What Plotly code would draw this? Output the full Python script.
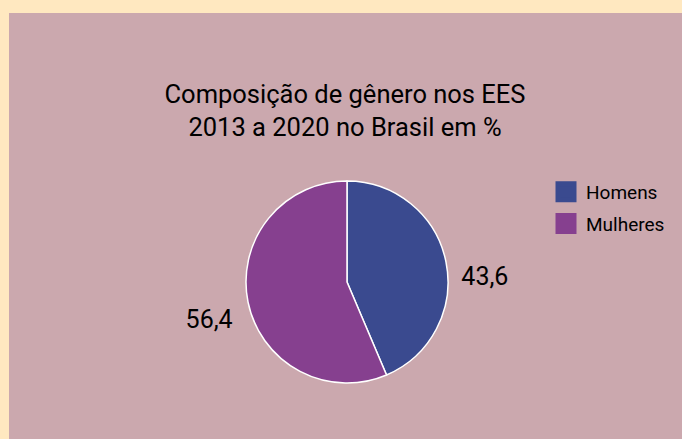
import plotly.graph_objects as go

labels = ["Homens", "Mulheres"]
values = [43.6, 56.4]
text_labels = ["43,6", "56,4"]
colors = ["#3A4A8F", "#86408F"]

W, H = 673, 426
fig = go.Figure()
fig.add_trace(go.Pie(
    labels=labels, values=values,
    text=["&nbsp;<br>" + t for t in text_labels],
    textinfo="text", textposition="outside",
    sort=False, direction="clockwise", rotation=0,
    marker=dict(colors=colors, line=dict(color="white", width=1.5)),
    textfont=dict(size=25, color="black", family="Roboto"),
    domain=dict(x=[(338 - 101) / W, (338 + 101) / W], y=[(157 - 101) / H, (157 + 101) / H]),
    showlegend=False, hoverinfo="label+value",
))
for name, col in zip(labels, colors):
    fig.add_trace(go.Scatter(
        x=[None], y=[None], mode="markers", name=name, legendgroup=name,
        marker=dict(symbol="square", size=16, color=col, line=dict(color=col, width=5)),
    ))
fig.update_layout(
    width=W, height=H,
    margin=dict(l=0, r=0, t=0, b=0),
    paper_bgcolor="#CBA8AE", plot_bgcolor="#CBA8AE",
    font=dict(family="Roboto", color="black"),
    xaxis=dict(visible=False), yaxis=dict(visible=False),
    title=dict(text="Composição de gênero nos EES<br>2013 a 2020 no Brasil em %",
               x=336 / W, xanchor="center", y=1 - 90 / H, yanchor="middle",
               yref="container", font=dict(size=25.5, color="black", family="Roboto")),
    legend=dict(x=537 / W, y=1 - 160 / H, xanchor="left", yanchor="top",
                tracegroupgap=4,
                font=dict(size=19, color="black", family="Roboto"), bgcolor="rgba(0,0,0,0)"),
)
fig.write_html("out.html", post_script=(
    "document.body.style.margin='0';"
    "document.body.style.padding='13px 0 0 9px';"
    "document.body.style.background='#FFE8C0';"
    "document.body.style.overflow='hidden';"
))
